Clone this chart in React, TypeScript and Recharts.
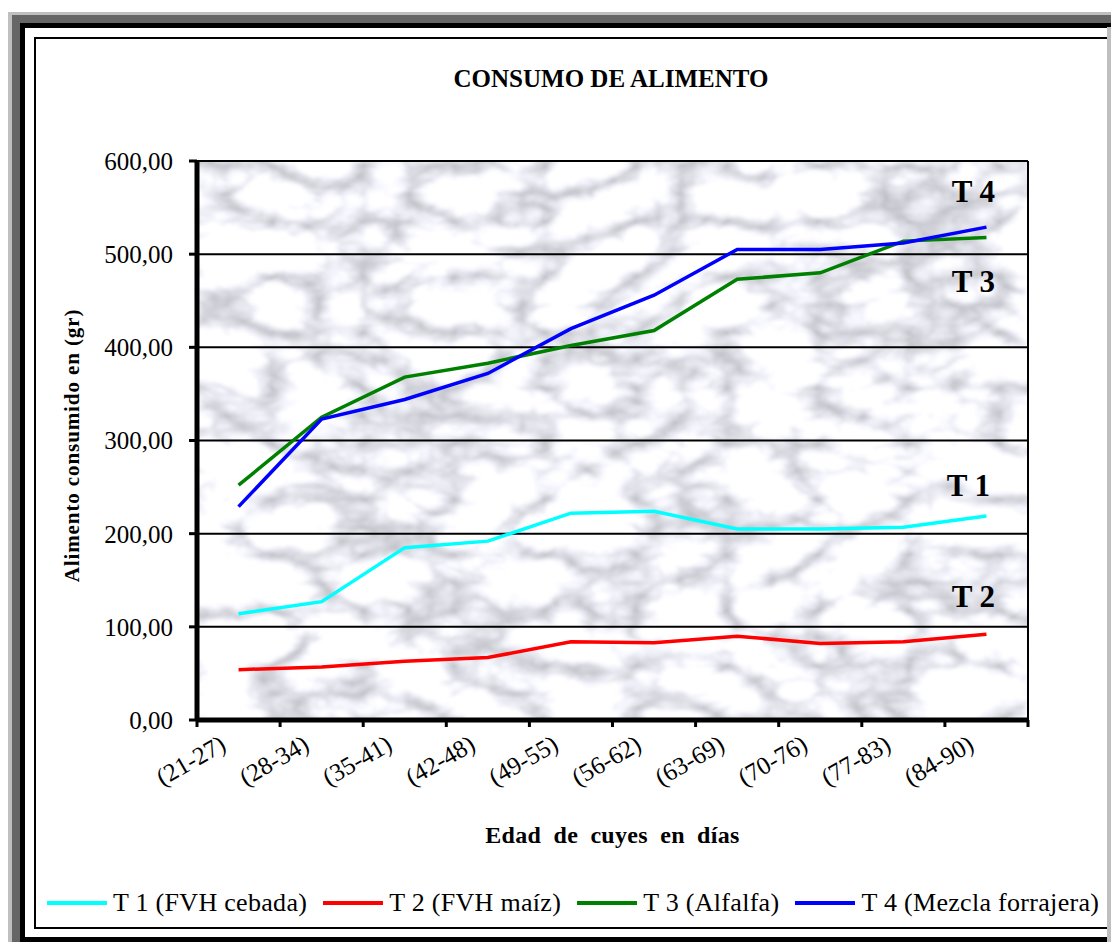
import {
  LineChart,
  Line,
  XAxis,
  YAxis,
  CartesianGrid,
  Legend,
  LabelList,
} from "recharts";

const periods = [
  "(21-27)",
  "(28-34)",
  "(35-41)",
  "(42-48)",
  "(49-55)",
  "(56-62)",
  "(63-69)",
  "(70-76)",
  "(77-83)",
  "(84-90)",
];

// consumo por tratamiento (gr)
const t1Cebada = [114, 127, 185, 192, 222, 224, 205, 205, 207, 219];
const t2Maiz = [54, 57, 63, 67, 84, 83, 90, 82, 84, 92];
const t3Alfalfa = [252, 325, 368, 383, 402, 418, 473, 480, 514, 518];
const t4Mezcla = [229, 323, 344, 372, 420, 456, 505, 505, 512, 529];

const yTicks = [0, 100, 200, 300, 400, 500, 600];

const seriesNames = [
  "T 1 (FVH cebada)",
  "T 2 (FVH maíz)",
  "T 3 (Alfalfa)",
  "T 4 (Mezcla forrajera)",
];
const seriesTags = ["T 1", "T 2", "T 3", "T 4"];
const COLORS = ["#00ffff", "#ff0000", "#008000", "#0000ff"];

const data = periods.map((p, i) => ({
  periodo: p,
  t1: t1Cebada[i],
  t2: t2Maiz[i],
  t3: t3Alfalfa[i],
  t4: t4Mezcla[i],
}));

const SERIF = "'Liberation Serif', 'Times New Roman', serif";

const fmt = (v: number) => v.toFixed(2).replace(".", ",");

// category labels + tick marks on the category boundaries
const PeriodTick = (props: any) => {
  const { x, y, payload, index, visibleTicksCount } = props;
  const half = payload?.offset ?? 0;
  const last = index === (visibleTicksCount ?? periods.length) - 1;
  const tx = x - 11;
  const ty = y + 29;
  return (
    <g>
      <line x1={x - half} x2={x - half} y1={y} y2={y + 7} stroke="#000" strokeWidth={3} />
      {last && (
        <line x1={x + half} x2={x + half} y1={y} y2={y + 7} stroke="#000" strokeWidth={3} />
      )}
      <text
        x={tx}
        y={ty}
        transform={`rotate(-30 ${tx} ${ty})`}
        textAnchor="end"
        fontFamily={SERIF}
        fontSize={25}
        fill="#000"
      >
        {payload.value}
      </text>
    </g>
  );
};

// "T n" tag placed near the last point of each line
const endTag = (tag: string, dx: number, dy: number) => (props: any) => {
  const { x, y, index } = props;
  if (index !== periods.length - 1) return null;
  return (
    <text
      x={x + dx}
      y={y + dy}
      textAnchor="middle"
      fontFamily={SERIF}
      fontWeight="bold"
      fontSize={31}
      fill="#000"
    >
      {tag}
    </text>
  );
};

const tagOffsets = [
  [-18, -20],
  [-13, -27],
  [-13, 55],
  [-13, -25],
];

const renderLegend = (props: any) => {
  const { payload } = props;
  return (
    <div
      style={{
        display: "flex",
        alignItems: "center",
        whiteSpace: "nowrap",
        height: 60,
        paddingTop: 22,
        boxSizing: "border-box",
        fontFamily: SERIF,
        fontSize: 26,
        letterSpacing: 0.3,
        color: "#000",
      }}
    >
      {payload.map((entry: any) => (
        <span
          key={entry.value}
          style={{ display: "inline-flex", alignItems: "center", marginRight: 16 }}
        >
          <span
            style={{
              display: "inline-block",
              width: 60,
              height: 4,
              background: entry.color,
              marginRight: 6,
            }}
          />
          {entry.value}
        </span>
      ))}
    </div>
  );
};

const YTitle = (props: any) => {
  const { viewBox } = props;
  const cx = viewBox.x - 45;
  const cy = viewBox.y + viewBox.height / 2 + 5;
  return (
    <text
      x={cx}
      y={cy}
      transform={`rotate(-90 ${cx} ${cy})`}
      textAnchor="middle"
      dominantBaseline="central"
      fontFamily={SERIF}
      fontWeight="bold"
      fontSize={21}
      letterSpacing={0.9}
      fill="#000"
    >
      Alimento consumido en (gr)
    </text>
  );
};

const XTitle = (props: any) => {
  const { viewBox } = props;
  return (
    <text
      x={viewBox.x + viewBox.width / 2}
      y={843}
      textAnchor="middle"
      fontFamily={SERIF}
      fontWeight="bold"
      fontSize={24}
      wordSpacing={6}
      letterSpacing={0.3}
      fill="#000"
    >
      Edad de cuyes en días
    </text>
  );
};

const App = () => {
  return (
    <div
      style={{
        position: "absolute",
        left: 0,
        top: 0,
        width: 1111,
        height: 942,
        overflow: "hidden",
        background: "#fff",
      }}
    >
      {/* picture frame */}
      <div style={{ position: "absolute", left: 8, top: 12, right: 0, bottom: 0, background: "#bfbfbf" }} />
      <div style={{ position: "absolute", left: 12, top: 15, right: 0, bottom: 0, background: "#666" }} />
      <div style={{ position: "absolute", left: 20, top: 23, right: 0, bottom: 0, background: "#000" }} />
      <div style={{ position: "absolute", left: 1107, top: 27, right: 0, bottom: 0, background: "#bfbfbf" }} />
      <div
        style={{
          position: "absolute",
          left: 25,
          top: 28,
          width: 1082,
          height: 909,
          background: "#fff",
          overflow: "hidden",
        }}
      >
        <div
          style={{
            position: "absolute",
            left: 9,
            top: 9,
            width: 1200,
            height: 888,
            border: "2px solid #000",
          }}
        />
        <div
          style={{
            position: "absolute",
            left: -25,
            top: 38,
            width: 1222,
            textAlign: "center",
            fontFamily: SERIF,
            fontWeight: "bold",
            fontSize: 25,
            lineHeight: "25px",
            letterSpacing: 0,
            color: "#000",
          }}
        >
          CONSUMO DE ALIMENTO
        </div>
        <div style={{ position: "absolute", left: -25, top: -28 }}>
          <LineChart
            width={1111}
            height={942}
            data={data}
            margin={{ top: 161, right: 81, bottom: 20, left: 117 }}
          >
            <defs>
              {/* soft grey marble for the plot background */}
              <filter
                id="marbleNoise"
                x="0"
                y="0"
                width="100%"
                height="100%"
                colorInterpolationFilters="sRGB"
              >
                <feTurbulence
                  type="turbulence"
                  baseFrequency="0.011 0.018"
                  numOctaves={4}
                  seed={11}
                />
                <feColorMatrix
                  type="matrix"
                  values="0.7 0 0 0 0.74  0.7 0 0 0 0.74  0.7 0 0 0 0.77  0 0 0 0 1"
                />
                <feGaussianBlur stdDeviation={1.6} />
              </filter>
              <pattern id="marble" patternUnits="userSpaceOnUse" x={0} y={0} width={1111} height={942}>
                <rect width={1111} height={942} filter="url(#marbleNoise)" />
              </pattern>
            </defs>
            <CartesianGrid
              vertical={false}
              stroke="#000"
              strokeWidth={2}
              fill="url(#marble)"
              fillOpacity={1}
            />
            <XAxis
              dataKey="periodo"
              scale="band"
              height={142}
              axisLine={{ stroke: "#000", strokeWidth: 5 }}
              tickLine={false}
              tickSize={0}
              tickMargin={0}
              interval={0}
              tick={<PeriodTick />}
              label={<XTitle />}
            />
            <YAxis
              width={80}
              domain={[0, 600]}
              ticks={yTicks}
              tickFormatter={fmt}
              axisLine={{ stroke: "#000", strokeWidth: 5 }}
              tickLine={{ stroke: "#000", strokeWidth: 3 }}
              tickSize={8}
              tickMargin={16}
              tick={{ fill: "#000", fontFamily: SERIF, fontSize: 25 }}
              label={<YTitle />}
            />
            <YAxis
              yAxisId="frame"
              orientation="right"
              width={2}
              domain={[0, 600]}
              tick={false}
              tickLine={false}
              axisLine={{ stroke: "#000", strokeWidth: 2 }}
            />
            <Legend verticalAlign="bottom" height={60} content={renderLegend} wrapperStyle={{ left: 47, width: 1100 }} />
            {(["t1", "t2", "t3", "t4"] as const).map((key, i) => (
              <Line
                key={key}
                type="linear"
                dataKey={key}
                name={seriesNames[i]}
                stroke={COLORS[i]}
                strokeWidth={3.5}
                dot={false}
                activeDot={false}
                isAnimationActive={false}
              >
                <LabelList dataKey={key} content={endTag(seriesTags[i], tagOffsets[i][0], tagOffsets[i][1])} />
              </Line>
            ))}
          </LineChart>
        </div>
      </div>
    </div>
  );
};

export default App;
